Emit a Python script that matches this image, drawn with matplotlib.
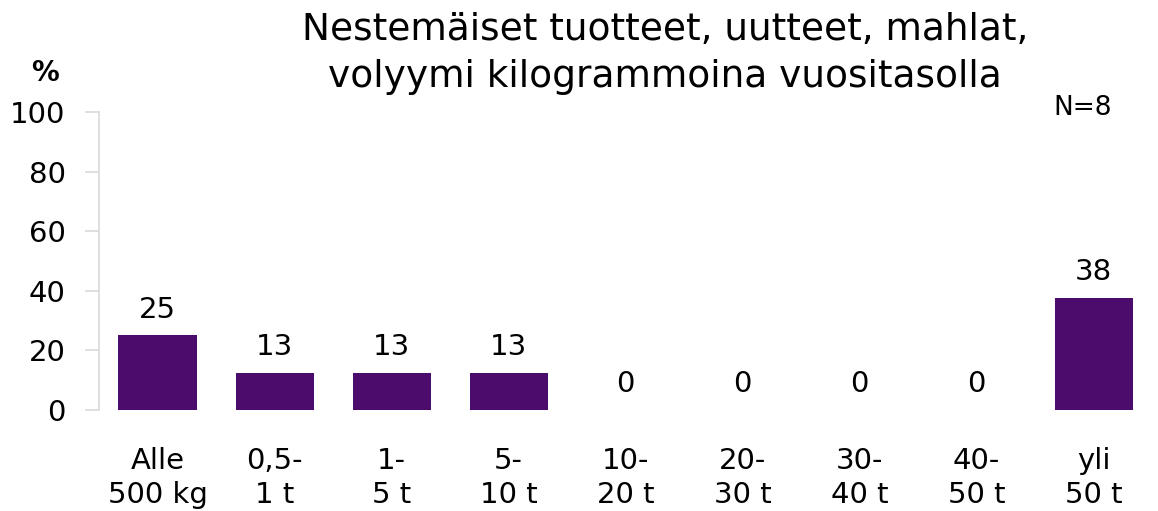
import matplotlib
matplotlib.use("Agg")
import matplotlib.pyplot as plt

categories = ["Alle\n500 kg", "0,5-\n1 t", "1-\n5 t", "5-\n10 t", "10-\n20 t",
              "20-\n30 t", "30-\n40 t", "40-\n50 t", "yli\n50 t"]
values = [25, 12.5, 12.5, 12.5, 0, 0, 0, 0, 37.5]
labels = ["25", "13", "13", "13", "0", "0", "0", "0", "38"]
title = "Nestemäiset tuotteet, uutteet, mahlat,\nvolyymi kilogrammoina vuositasolla"
yticks = [0, 20, 40, 60, 80, 100]

plt.rcParams['font.family'] = ['DejaVu Sans']
bar_color = "#4B0C6B"

fig = plt.figure(figsize=(11.58, 5.11), dpi=100)
ax = fig.add_axes([0.0855, 0.1977, 0.9095, 0.5833])
x = list(range(len(categories)))
ax.bar(x, values, width=0.667, color=bar_color)
for xi, v, lab in zip(x, values, labels):
    ax.text(xi, v + 4, lab, ha="center", va="bottom", fontsize=21, color="black")

ax.set_xlim(-0.5, len(categories) - 0.5)
ax.set_ylim(0, 100)
ax.set_yticks(yticks)
ax.set_yticklabels([str(t) for t in yticks], fontsize=21)
ax.set_xticks(x)
ax.set_xticklabels(categories, fontsize=21, linespacing=1.25)
ax.tick_params(axis="x", length=0, pad=27)
ax.tick_params(axis="y", length=10, color="#D9D9D9", width=1.2, pad=14)
for s in ["top", "right", "bottom"]:
    ax.spines[s].set_visible(False)
ax.spines["left"].set_color("#D9D9D9")
ax.spines["left"].set_linewidth(1.2)

fig.text(0.574, 0.895, title, ha="center", va="center", fontsize=27, linespacing=1.4)
fig.text(0.039, 0.858, "%", ha="center", va="center", fontsize=20, fontweight="bold")
fig.text(0.935, 0.788, "N=8", ha="center", va="center", fontsize=19)

fig.savefig("out.png", dpi=100)
